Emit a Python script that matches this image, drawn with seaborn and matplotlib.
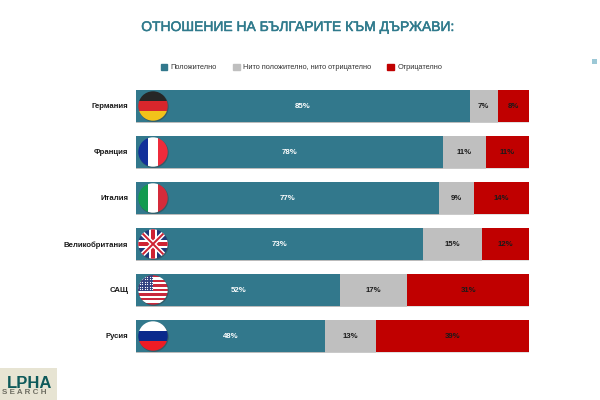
import matplotlib
matplotlib.use("Agg")
import matplotlib.patheffects as pe
import matplotlib.pyplot as plt
from matplotlib.patches import Circle, Rectangle
import pandas as pd
import seaborn as sns

countries = ["Германия", "Франция", "Италия", "Великобритания", "САЩ", "Русия"]
positive = [85, 78, 77, 73, 52, 48]
neutral = [7, 11, 9, 15, 17, 13]
negative = [8, 11, 14, 12, 31, 39]
series_names = ["Положително", "Нито положително, нито отрицателно", "Отрицателно"]
title_text = "ОТНОШЕНИЕ НА БЪЛГАРИТЕ КЪМ ДЪРЖАВИ:"

TEAL = "#32788C"
GREY = "#BFBFBF"
RED = "#C00000"
W, H = 600, 400


def px_axes(fig, x0, y0, x1, y1, **kw):
    # pixel box with y counted from the top
    return fig.add_axes([x0 / W, 1 - y1 / H, (x1 - x0) / W, (y1 - y0) / H], **kw)


def stripes(a, colors, vertical=False):
    n = len(colors)
    for i, c in enumerate(colors):
        if vertical:
            a.add_patch(Rectangle((-15 + 30 * i / n, -15), 30 / n, 30, color=c, lw=0))
        else:
            a.add_patch(Rectangle((-15, 15 - 30 * (i + 1) / n), 30, 30 / n, color=c, lw=0))


def union_jack(a):
    a.add_patch(Rectangle((-15, -15), 30, 30, color="#1F3A7A", lw=0))
    for s, w in (("white", 5), ("#CF2233", 2)):
        a.plot([-15, 15], [-15, 15], color=s, lw=w * 0.72, solid_capstyle="butt")
        a.plot([-15, 15], [15, -15], color=s, lw=w * 0.72, solid_capstyle="butt")
    a.add_patch(Rectangle((-15, -4), 30, 8, color="white", lw=0))
    a.add_patch(Rectangle((-4, -15), 8, 30, color="white", lw=0))
    a.add_patch(Rectangle((-15, -2.2), 30, 4.4, color="#CF2233", lw=0))
    a.add_patch(Rectangle((-2.2, -15), 4.4, 30, color="#CF2233", lw=0))


def usa(a):
    stripes(a, ["#C8283C", "white"] * 6 + ["#C8283C"])
    a.add_patch(Rectangle((-15, -1), 15, 16, color="#2F3F7F", lw=0))
    xs = [-13 + 2.4 * i for i in range(6)]
    ys = [1 + 2.4 * j for j in range(6)]
    a.scatter([x for x in xs for _ in ys], ys * len(xs), s=0.8, color="white", lw=0)


def draw_flag(fig, cy, painter):
    a = px_axes(fig, 135, cy - 18, 171, cy + 18)
    a.set_xlim(-18, 18)
    a.set_ylim(-18, 18)
    a.axis("off")
    a.patch.set_alpha(0)
    a.add_patch(Circle((0.7, -0.9), 15.0, color="#33333366", lw=0))
    before = set(a.get_children())
    painter(a)
    clip = Circle((0, 0), 14.7, transform=a.transData)
    for child in a.get_children():
        if child not in before:
            child.set_clip_path(clip)


flag_painters = [
    lambda a: stripes(a, ["#262626", "#D8262C", "#F2C21A"]),
    lambda a: stripes(a, ["#12309A", "#FFFFFF", "#EE2B3B"], vertical=True),
    lambda a: stripes(a, ["#129A50", "#FFFFFF", "#D42B3A"], vertical=True),
    union_jack,
    usa,
    lambda a: stripes(a, ["#FFFFFF", "#0A2A8C", "#EE1C25"]),
]

df = pd.DataFrame(
    {"country": countries, "positive": positive, "neutral": neutral, "negative": negative}
)
df["to_neutral"] = df["positive"] + df["neutral"]
df["to_negative"] = df["to_neutral"] + df["negative"]

plt.rcParams["font.family"] = ["Liberation Sans", "DejaVu Sans"]
fig = plt.figure(figsize=(6, 4), dpi=100, facecolor="white")
ax = px_axes(fig, 136, 83, 529, 359)

# cumulative bars, longest first so each shorter one sits on top
shadow = [pe.SimplePatchShadow(offset=(0, -1.2), shadow_rgbFace="#999999", alpha=0.3), pe.Normal()]
for col, color in (("to_negative", RED), ("to_neutral", GREY), ("positive", TEAL)):
    sns.barplot(data=df, x=col, y="country", color=color, width=0.68, saturation=1, ax=ax, order=countries)
for bar in ax.patches:
    bar.set_path_effects(shadow)

ax.set_xlim(0, 100)
ax.set_ylim(5.5, -0.5)
ax.set_xlabel("")
ax.set_ylabel("")
ax.set_xticks([])
ax.tick_params(axis="y", length=0, pad=5.5)
for label in ax.get_yticklabels():
    label.set_fontsize(5.6)
    label.set_fontweight("bold")
    label.set_color("#1A1A1A")
ax.patch.set_alpha(0)
sns.despine(ax=ax, left=True, bottom=True)

for i in range(len(countries)):
    p, n, g = positive[i], neutral[i], negative[i]
    ax.text(p / 2, i, f"{p}%", ha="center", va="center", color="white", fontsize=5.6, fontweight="bold")
    ax.text(p + n / 2, i, f"{n}%", ha="center", va="center", color="#1A1A1A", fontsize=5.6, fontweight="bold")
    ax.text(p + n + g / 2, i, f"{g}%", ha="center", va="center", color="#1A1A1A", fontsize=5.6, fontweight="bold")

handles = [Rectangle((0, 0), 1, 1, color=c) for c in (TEAL, GREY, RED)]
fig.legend(
    handles, series_names, ncol=3, frameon=False, fontsize=5.3,
    loc="center", bbox_to_anchor=(301.5 / W, 1 - 67.5 / H),
    handlelength=0.9, handleheight=0.9, handletextpad=0.45, columnspacing=2.2,
    labelcolor="#333333",
)

# the slide uses a condensed face, so a smaller regular one with a thin outline
fig.text(297.5 / W, 1 - 27 / H, title_text, ha="center", va="center",
         color="#2F7A8C", fontsize=10, fontweight="normal",
         path_effects=[pe.withStroke(linewidth=0.35, foreground="#2F7A8C")])

for i, painter in enumerate(flag_painters):
    draw_flag(fig, 106 + 46 * i, painter)

# stray marker at the right edge of the slide
fig.add_artist(Rectangle((592 / W, 1 - 64 / H), 5 / W, 5 / H, color="#9CC8D6", lw=0, transform=fig.transFigure))

# logo in the corner, cropped on the left as in the slide
logo = px_axes(fig, 0, 368, 57, 400)
logo.set_xlim(0, 57)
logo.set_ylim(32, 0)
logo.set_xticks([])
logo.set_yticks([])
logo.set_facecolor("#E7E4D3")
for s in logo.spines.values():
    s.set_visible(False)
logo.text(7, 15, "LPHA", color="#0E5A5A", fontsize=12, fontweight="bold", va="center", ha="left")
logo.text(2, 25, "S E A R C H", color="#6E6E62", fontsize=5.8, fontweight="bold", va="center", ha="left")

fig.savefig("out.png", dpi=100)
